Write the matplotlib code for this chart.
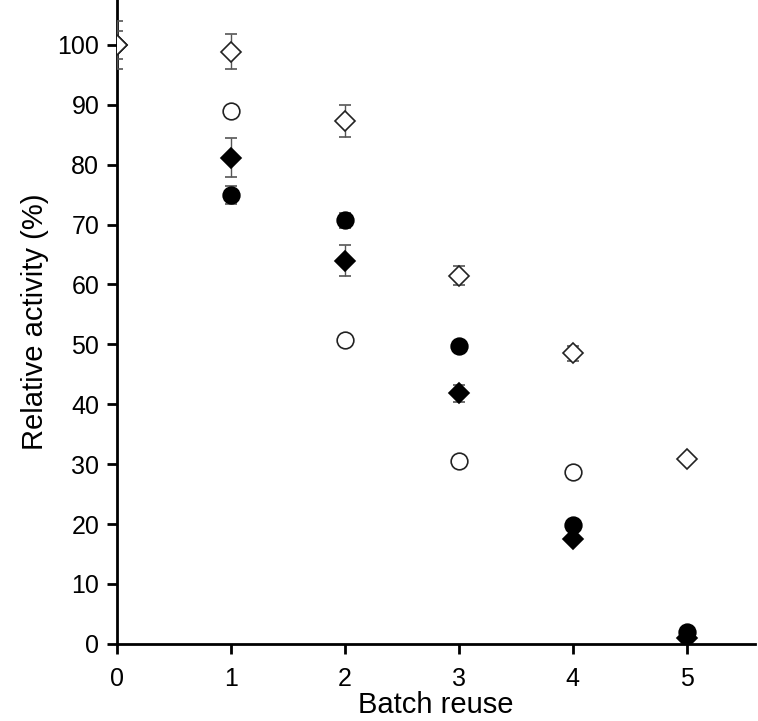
import matplotlib
matplotlib.use("Agg")
import matplotlib.pyplot as plt

plt.rcParams['font.family'] = ['Liberation Sans', 'DejaVu Sans']

# Relative activity (%) vs batch reuse, four preparations
x_open_dia = [0, 1, 2, 3, 4, 5]
y_open_dia = [100, 98.9, 87.3, 61.5, 48.5, 30.8]
e_open_dia = [4.0, 3.0, 2.6, 1.6, 1.2, 0.6]

x_fill_dia = [0, 1, 2, 3, 4, 5]
y_fill_dia = [100, 81.2, 64.0, 41.8, 17.5, 1.0]
e_fill_dia = [2.3, 3.2, 2.6, 1.5, 0.5, 0.5]

x_open_cir = [1, 2, 3, 4]
y_open_cir = [89.0, 50.8, 30.5, 28.7]
e_open_cir = [0.3, 0.3, 0.3, 0.3]

x_fill_cir = [1, 2, 3, 4, 5]
y_fill_cir = [75.0, 70.7, 49.8, 19.8, 2.0]
e_fill_cir = [1.5, 1.2, 0.5, 0.5, 0.5]

fig = plt.figure(figsize=(7.58, 7.21), dpi=100)
ax = fig.add_axes([0.154, 0.107, 0.842, 0.893])

err_kw = dict(ecolor='#555555', elinewidth=1.0, capsize=4, capthick=1.0,
              linestyle='none', clip_on=True)

ax.errorbar(x_fill_dia, y_fill_dia, yerr=e_fill_dia, marker='D', ms=10.5,
            mfc='black', mec='black', mew=1.2, zorder=3, **err_kw)
ax.errorbar(x_fill_cir, y_fill_cir, yerr=e_fill_cir, marker='o', ms=12,
            mfc='black', mec='black', mew=1.2, zorder=4, **err_kw)
ax.errorbar(x_open_cir, y_open_cir, yerr=e_open_cir, marker='o', ms=12,
            mfc='white', mec='#222222', mew=1.2, zorder=4, **err_kw)
ax.errorbar(x_open_dia, y_open_dia, yerr=e_open_dia, marker='D', ms=10.5,
            mfc='white', mec='#222222', mew=1.2, zorder=5, **err_kw)

ax.set_xlim(0, 5.6)
ax.set_ylim(0, 107.5)
ax.set_xticks(range(0, 6))
ax.set_yticks(range(0, 101, 10))

for s in ['top', 'right']:
    ax.spines[s].set_visible(False)
for s in ['left', 'bottom']:
    ax.spines[s].set_linewidth(2.0)

ax.tick_params(direction='out', length=7.5, width=2.0, labelsize=18)
ax.tick_params(axis='x', pad=9)
ax.tick_params(axis='y', pad=5)

ax.set_xlabel('Batch reuse', fontsize=21, labelpad=0.5)
ax.set_ylabel('Relative activity (%)', fontsize=21, labelpad=6)

fig.savefig('out.png', dpi=100, facecolor='white')
